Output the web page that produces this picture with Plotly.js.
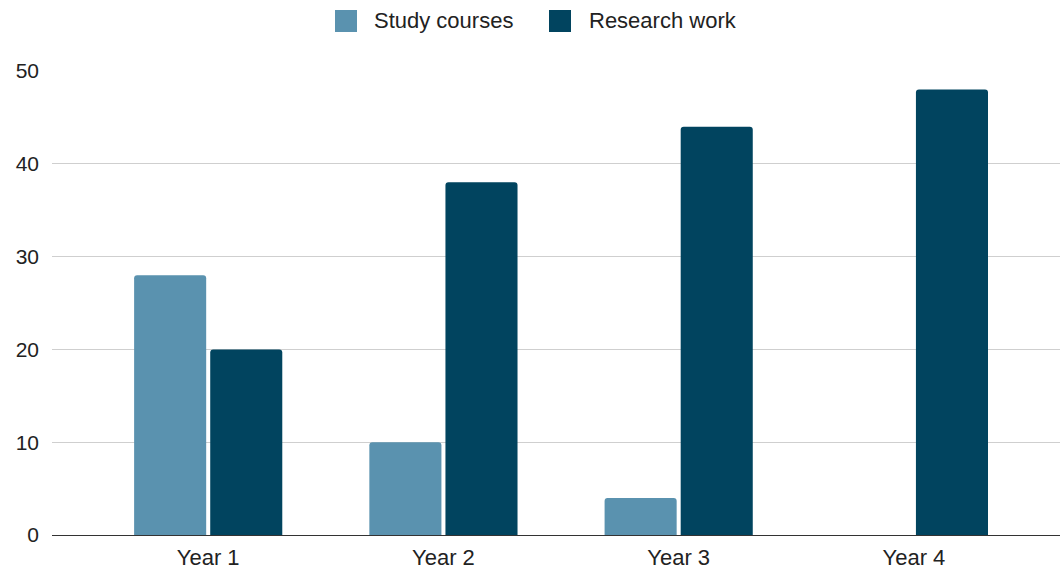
<!DOCTYPE html>
<html><head><meta charset="utf-8">
<script src="https://cdn.plot.ly/plotly-3.0.1.min.js"></script>
<style>html,body{margin:0;padding:0;background:#fff}#chart{width:1060px;height:569px}</style>
</head><body><div id="chart"></div>
<script>
const categories = ["Year 1", "Year 2", "Year 3", "Year 4"];
const studyCourses = [28, 10, 4, 0];
const researchWork = [20, 38, 44, 48];
const seriesNames = ["Study courses", "Research work"];
const yTicks = [0, 10, 20, 30, 40, 50];

const colors = ["#5a92af", "#01445f"];
const fontFam = "Liberation Sans, Arial, sans-serif";

const traces = [
  {type: "bar", name: seriesNames[0], x: categories, y: studyCourses, marker: {color: colors[0], cornerradius: 3}, showlegend: false, hoverinfo: "x+y+name"},
  {type: "bar", name: seriesNames[1], x: categories, y: researchWork, marker: {color: colors[1], cornerradius: 3}, showlegend: false, hoverinfo: "x+y+name"}
];

// legend drawn in pixel positions converted to paper coords
const L = 52, W = 1008, B = 535, H = 464;
const px = v => (v - L) / W;
const py = v => (B - v) / H;
const legendItems = [
  {sq: [335, 357], tx: 372},
  {sq: [549, 571], tx: 587}
];
const shapes = legendItems.map((it, i) => ({
  type: "rect", xref: "paper", yref: "paper",
  x0: px(it.sq[0]), x1: px(it.sq[1]), y0: py(32), y1: py(10),
  fillcolor: colors[i], line: {width: 0}
}));
const annotations = legendItems.map((it, i) => ({
  xref: "paper", yref: "paper", x: px(it.tx), y: py(21), xanchor: "left", yanchor: "middle",
  text: seriesNames[i], showarrow: false, font: {family: fontFam, size: 22, color: "#222"}
}));

const layout = {
  width: 1060, height: 569,
  margin: {l: 52, r: 0, t: 71, b: 34},
  paper_bgcolor: "#fff", plot_bgcolor: "#fff",
  barmode: "group", bargap: 0.353, bargroupgap: 0.053,
  font: {family: fontFam, size: 21, color: "#222"},
  xaxis: {type: "category", range: [-0.664, 3.621], automargin: false, showgrid: false, zeroline: false, showline: false, ticks: "", ticklabelstandoff: 7, tickfont: {size: 22, color: "#222"}},
  yaxis: {range: [0, 50], tickvals: yTicks, automargin: false, showgrid: true, gridcolor: "#cfcfcf", gridwidth: 1, zeroline: true, zerolinecolor: "#333", zerolinewidth: 1, showline: false, ticks: "", ticklabelstandoff: 12, tickfont: {size: 21, color: "#222"}},
  shapes: shapes, annotations: annotations
};
Plotly.newPlot("chart", traces, layout, {displayModeBar: false, staticPlot: true});
</script></body></html>
